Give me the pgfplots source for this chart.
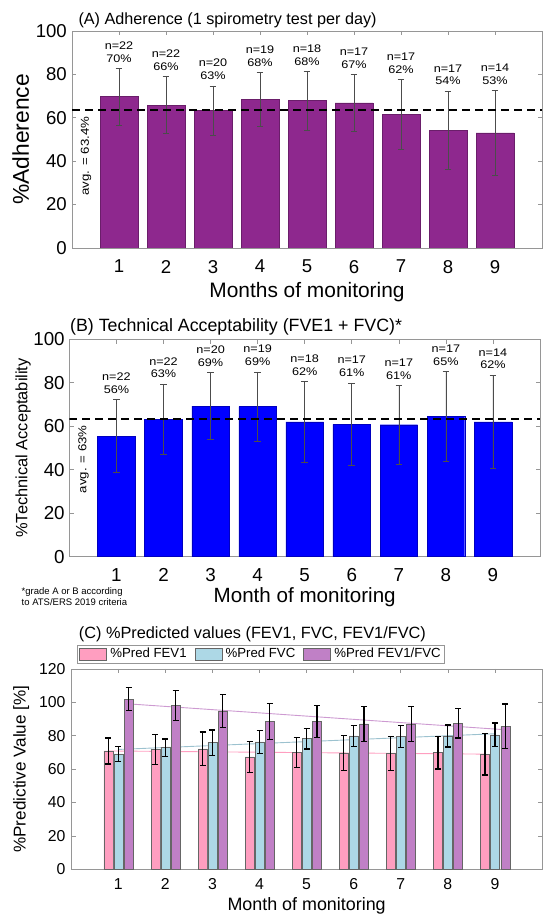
\documentclass[border=0pt]{standalone}
\usepackage{pgfplots}
\pgfplotsset{compat=1.18}
\usepackage{fontspec}
\setmainfont{Liberation Sans}
\newfontfamily\wide{Liberation Sans}[FakeStretch=1.15]
\definecolor{barA}{RGB}{142,40,142}
\definecolor{barB}{RGB}{0,0,255}
\definecolor{cpink}{RGB}{255,158,192}
\definecolor{cblue}{RGB}{173,216,230}
\definecolor{cpurp}{RGB}{192,128,198}
\definecolor{axgray}{RGB}{150,150,150}
\newcommand{\fs}[1]{\fontsize{#1}{#1}\selectfont}
\pgfplotsset{
  base/.style={
    scale only axis, anchor=south west,
    xmin=0, xmax=10, xtick={1,...,9},
    tick align=inside, tick pos=both,
    major tick length=4.5pt,
    axis line style={axgray, line width=0.7pt},
    every tick/.style={axgray, line width=0.6pt},
    /pgf/number format/assume math mode=true,
  },
  ebAB/.style={error bars/.cd, y dir=both, y explicit,
    error bar style={black!70, line width=0.6pt},
    error mark options={rotate=90, black!70, line width=0.6pt, mark size=3.3pt}},
  ebC/.style={error bars/.cd, y dir=both, y explicit,
    error bar style={black, line width=1.2pt},
    error mark options={rotate=90, black, line width=1.2pt, mark size=3pt}},
}
\tikzset{lab/.style={anchor=south, align=center, inner sep=0pt, yshift=6pt, font=\wide\fontsize{11}{12.7}\selectfont}}
\begin{document}
\begin{tikzpicture}
\path[use as bounding box] (0,0) rectangle (550pt,920pt);
% ---------------- Panel A ----------------
\begin{axis}[base, at={(72pt,672pt)}, width=470pt, height=217pt,
  ymin=0, ymax=100, ytick={0,20,...,100},
  xticklabel style={font=\fs{18.6}, inner sep=0pt, yshift=-12pt},
  yticklabel style={font=\fs{18.6}, inner sep=0pt, xshift=-5pt},
  title={(A) Adherence (1 spirometry test per day)},
  every axis title/.style={at={(axis description cs:0,1)}, anchor=base west, xshift=3pt, yshift=6pt, font=\fs{16.2}},
  xlabel={Months of monitoring},
  every axis x label/.style={at={(axis description cs:0.5,0)}, anchor=base, yshift=-50pt, font=\fs{20.9}},
  ylabel={\%Adherence},
  every axis y label/.style={at={(axis description cs:-0.0915,0.5)}, rotate=90, anchor=base, font=\fs{22.8}},
]
\addplot[ybar, bar width=0.8, fill=barA, draw=barA!75!black, line width=0.4pt, ebAB]
coordinates {(1,69.8) +- (0,13.05) (2,65.8) +- (0,13.1) (3,63.3) +- (0,11.4)
 (4,68.5) +- (0,12.3) (5,67.9) +- (0,13.5) (6,66.9) +- (0,13.1)
 (7,61.7) +- (0,16.0) (8,54.3) +- (0,18.0) (9,53.1) +- (0,19.4)};
\addplot[black, line width=2pt, dash pattern=on 8pt off 5pt] coordinates {(0,63.4) (10,63.4)};
\node[rotate=90, anchor=east, inner sep=0pt, font=\wide\fs{11.5}] at (axis cs:0.3,60.6) {avg. = 63.4\%};
\node[lab] at (axis cs:1,82.8) {n=22\\70\%};
\node[lab] at (axis cs:2,78.9) {n=22\\66\%};
\node[lab] at (axis cs:3,74.7) {n=20\\63\%};
\node[lab] at (axis cs:4,80.8) {n=19\\68\%};
\node[lab] at (axis cs:5,81.4) {n=18\\68\%};
\node[lab] at (axis cs:6,80.0) {n=17\\67\%};
\node[lab] at (axis cs:7,77.7) {n=17\\62\%};
\node[lab] at (axis cs:8,72.3) {n=17\\54\%};
\node[lab] at (axis cs:9,72.5) {n=14\\53\%};
\end{axis}
% ---------------- Panel B ----------------
\begin{axis}[base, at={(69.4pt,363.3pt)}, width=470.6pt, height=217.4pt,
  ymin=0, ymax=100, ytick={0,20,...,100},
  xticklabel style={font=\fs{18.8}, inner sep=0pt, yshift=-11.3pt},
  yticklabel style={font=\fs{18.8}, inner sep=0pt, xshift=-4.5pt},
  title={(B) Technical Acceptability (FVE1 + FVC)*},
  every axis title/.style={at={(axis description cs:0,1)}, anchor=base west, xshift=-2.8pt, yshift=7.3pt, font=\fs{17.8}},
  xlabel={Month of monitoring},
  every axis x label/.style={at={(axis description cs:0.5,0)}, anchor=base, yshift=-46pt, font=\fs{20.6}},
  ylabel={\%Technical Acceptability},
  every axis y label/.style={at={(axis description cs:-0.0892,0.5)}, rotate=90, anchor=base, font=\fs{16.4}},
]
\addplot[ybar, bar width=0.8, fill=barB, draw=barB!75!black, line width=0.4pt, ebAB]
coordinates {(1,55.5) +- (0,16.8) (2,63.3) +- (0,16.0) (3,69.3) +- (0,15.3)
 (4,69.0) +- (0,16.0) (5,62.0) +- (0,18.6) (6,60.9) +- (0,19.0)
 (7,60.7) +- (0,18.0) (8,64.6) +- (0,20.6) (9,62.0) +- (0,21.5)};
\addplot[black, line width=2pt, dash pattern=on 8pt off 5pt] coordinates {(0,63.3) (10,63.3)};
\node[rotate=90, anchor=east, inner sep=0pt, font=\wide\fs{11.5}] at (axis cs:0.3,60.5) {avg. = 63\%};
\node[lab] at (axis cs:1,72.3) {n=22\\56\%};
\node[lab] at (axis cs:2,79.3) {n=22\\63\%};
\node[lab] at (axis cs:3,84.6) {n=20\\69\%};
\node[lab] at (axis cs:4,85.0) {n=19\\69\%};
\node[lab] at (axis cs:5,80.6) {n=18\\62\%};
\node[lab] at (axis cs:6,79.9) {n=17\\61\%};
\node[lab] at (axis cs:7,78.7) {n=17\\61\%};
\node[lab] at (axis cs:8,85.2) {n=17\\65\%};
\node[lab] at (axis cs:9,83.5) {n=14\\62\%};
\end{axis}
\node[anchor=base west, inner sep=0pt, font=\fs{9.5}] at (21.5pt,325pt) {*grade A or B according};
\node[anchor=base west, inner sep=0pt, font=\fs{9.5}] at (21.5pt,314pt) {to ATS/ERS 2019 criteria};
% ---------------- Panel C ----------------
\begin{axis}[base, at={(71.2pt,50.7pt)}, width=470.8pt, height=200.3pt,
  ymin=0, ymax=120, ytick={0,20,...,120},
  xticklabel style={font=\fs{15.8}, inner sep=0pt, yshift=-8.7pt},
  yticklabel style={font=\fs{15.8}, inner sep=0pt, xshift=-5.6pt},
  title={(C) \%Predicted values (FEV1, FVC, FEV1/FVC)},
  every axis title/.style={at={(axis description cs:0,1)}, anchor=base west, xshift=4.2pt, yshift=30pt, font=\fs{16.3}},
  xlabel={Month of monitoring},
  every axis x label/.style={at={(axis description cs:0.5,0)}, anchor=base, yshift=-41.5pt, font=\fs{17.9}},
  ylabel={\%Predictive Value [\%]},
  every axis y label/.style={at={(axis description cs:-0.0969,0.5)}, rotate=90, anchor=base, font=\fs{17.1}},
  legend columns=3,
  legend style={at={(axis description cs:0,1)}, anchor=south west, xshift=5.8pt, yshift=5.7pt,
    draw=axgray, line width=0.7pt, fill=white, font=\fs{13.2}, inner xsep=2pt, inner ysep=1.5pt,
    /tikz/every odd column/.append style={column sep=1.5pt},
    /tikz/every even column/.append style={column sep=6pt}},
  legend cell align=left,
  legend image code/.code={\draw[#1] (0pt,-6pt) rectangle (27pt,6pt);},
]
\addplot[cpink, line width=0.9pt, forget plot] coordinates {(0.79,70.9) (8.79,69.0)};
\addplot[cblue!90!black, line width=0.9pt, forget plot] coordinates {(1,71.8) (9,81.2)};
\addplot[cpurp!80!white, line width=0.9pt, forget plot] coordinates {(1.22,99.1) (9.22,83.6)};
\addplot[ybar, bar width=0.19, bar shift=0, fill=cpink, draw=black!60, line width=0.5pt, ebC]
coordinates {(0.79,70.9) +- (0,7.8) (1.79,71.9) +- (0,9.0) (2.79,72.1) +- (0,10.1)
 (3.79,67.3) +- (0,9.3) (4.79,69.9) +- (0,9.0) (5.79,69.5) +- (0,10.5)
 (6.79,69.3) +- (0,10.2) (7.79,69.9) +- (0,9.8) (8.79,68.9) +- (0,12.4)};
\addlegendentry{\%Pred FEV1}
\addplot[ybar, bar width=0.19, bar shift=0, fill=cblue, draw=black!60, line width=0.5pt, ebC]
coordinates {(1,69.1) +- (0,4.5) (2,72.9) +- (0,5.2) (3,75.9) +- (0,7.5)
 (4,76.3) +- (0,6.9) (5,78.3) +- (0,6.2) (6,79.9) +- (0,6.4)
 (7,79.7) +- (0,6.6) (8,79.9) +- (0,6.6) (9,80.5) +- (0,7.1)};
\addlegendentry{\%Pred FVC}
\addplot[ybar, bar width=0.19, bar shift=0, fill=cpurp, draw=black!60, line width=0.5pt, ebC]
coordinates {(1.22,102.0) +- (0,7.0) (2.22,98.2) +- (0,9.0) (3.22,94.8) +- (0,9.8)
 (4.22,88.5) +- (0,10.6) (5.22,88.7) +- (0,9.5) (6.22,87.1) +- (0,10.5)
 (7.22,87.1) +- (0,10.3) (8.22,87.5) +- (0,8.8) (9.22,85.7) +- (0,13.3)};
\addlegendentry{\%Pred FEV1/FVC}
\end{axis}
\end{tikzpicture}
\end{document}
